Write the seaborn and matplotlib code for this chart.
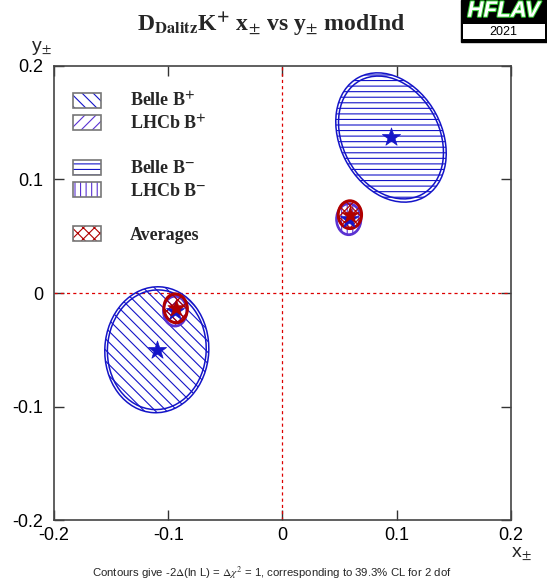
"""
DDalitz K+ : x± vs y± contours (Belle, LHCb, averages).
"""

import matplotlib
matplotlib.use("Agg")
import matplotlib.pyplot as plt
import matplotlib.patheffects as pe
from matplotlib.patches import Ellipse, Patch, Rectangle
import pandas as pd
import seaborn as sns

# ---- data ----
names = ["Belle B+", "LHCb B+", "Belle B-", "LHCb B-", "Average B+", "Average B-"]
x_center = [-0.110, -0.094, 0.095, 0.058, -0.0935, 0.059]
y_center = [-0.050, -0.016, 0.137, 0.065, -0.0135, 0.069]
x_semi = [0.0455, 0.0105, 0.0445, 0.0110, 0.0105, 0.0105]
y_semi = [0.0555, 0.0135, 0.0600, 0.0140, 0.0130, 0.0125]
angle_deg = [-3, 0, 28, 0, 5, 0]

ticks = [-0.2, -0.1, 0, 0.1, 0.2]
tick_labels = ["-0.2", "-0.1", "0", "0.1", "0.2"]

# ---- style ----
BLUE = "#1414c8"
PURPLE = "#5a32d2"
RED = "#b00000"
colors = [BLUE, PURPLE, BLUE, PURPLE, RED, RED]
hatches = ["\\\\\\", "///", "---", "|||", "xxx", "xxx"]
edge_lw = [1.1, 1.4, 1.1, 1.4, 1.7, 1.7]

sns.set_theme(style="ticks")
plt.rcParams["font.family"] = ["Liberation Sans", "DejaVu Sans"]
plt.rcParams["mathtext.fontset"] = "stix"
plt.rcParams["hatch.linewidth"] = 0.8

fig = plt.figure(figsize=(5.47, 5.88), dpi=100)
ax = fig.add_axes([0.0987, 0.1156, 0.8354, 0.7722])

ax.axhline(0, color="#dd0000", lw=0.9, ls=(0, (2.5, 2.5)), zorder=1)
ax.axvline(0, color="#dd0000", lw=0.9, ls=(0, (2.5, 2.5)), zorder=1)

for i in range(len(names)):
    for scale in (1.0, 0.95):
        ax.add_patch(Ellipse((x_center[i], y_center[i]), 2 * x_semi[i] * scale,
                             2 * y_semi[i] * scale, angle=angle_deg[i],
                             facecolor="none", edgecolor=colors[i], lw=edge_lw[i],
                             hatch=hatches[i] if scale == 1.0 else None,
                             zorder=2 + i))

stars = pd.DataFrame({"x": x_center, "y": y_center, "who": names})
sns.scatterplot(data=stars.iloc[:4], x="x", y="y", marker="*", s=190,
                color=BLUE, edgecolor=BLUE, linewidth=0.5, ax=ax, zorder=8)
sns.scatterplot(data=stars.iloc[4:], x="x", y="y", marker="*", s=170,
                color=RED, edgecolor=RED, linewidth=0.5, ax=ax, zorder=9)

ax.set_xlim(-0.2, 0.2)
ax.set_ylim(-0.2, 0.2)
ax.set_xticks(ticks, tick_labels)
ax.set_yticks(ticks, tick_labels)
ax.set_xlabel("")
ax.set_ylabel("")
ax.tick_params(direction="in", length=7, width=1.0, labelsize=13, colors="#333333",
               top=True, right=True, labelcolor="black")
ax.tick_params(axis="x", pad=5)
ax.tick_params(axis="y", pad=8)
for sp in ax.spines.values():
    sp.set_color("#444444")
    sp.set_linewidth(1.2)
ax.grid(False)

# legend with gaps between groups
def box(c, h):
    return (Patch(facecolor="white", edgecolor=c, hatch=h, lw=0),
            Patch(facecolor="none", edgecolor="#777777", lw=1.2))

blank = Patch(visible=False)
handles = [box(BLUE, "\\\\\\"), box(PURPLE, "///"), blank,
           box(BLUE, "---"), box(PURPLE, "|||"), blank, box(RED, "xxx")]
labels = [r"Belle B$^{\mathbf{+}}$", r"LHCb B$^{\mathbf{+}}$", " ",
          r"Belle B$^{\mathbf{-}}$", r"LHCb B$^{\mathbf{-}}$", " ", "Averages"]
ax.legend(handles, labels, loc="upper left", bbox_to_anchor=(0.005, 0.978),
          frameon=False, handlelength=1.6, handleheight=0.9, handletextpad=1.6,
          labelspacing=0.25, prop={"family": "Liberation Serif", "weight": "bold", "size": 13})

# titles and axis labels
fig.text(0.497, 0.958, r"D$_{\mathbf{Dalitz}}$K$^{\mathbf{+}}$ x$_{\pm}$ vs y$_{\pm}$ modInd",
         ha="center", va="center", fontsize=17, fontweight="bold", family="Liberation Serif")
fig.text(0.075, 0.918, r"y$_{\pm}$", ha="center", va="center", fontsize=14)
fig.text(0.953, 0.057, r"x$_{\pm}$", ha="center", va="center", fontsize=14)
fig.text(0.497, 0.025,
         r"Contours give -2$\Delta$(ln L) = $\Delta\chi^2$ = 1, corresponding to 39.3% CL for 2 dof",
         ha="center", va="center", fontsize=8.2)

# HFLAV logo
fig.add_artist(Rectangle((0.842, 0.929), 0.158, 0.071, transform=fig.transFigure,
                         facecolor="black", edgecolor="black"))
fig.add_artist(Rectangle((0.847, 0.933), 0.150, 0.027, transform=fig.transFigure,
                         facecolor="white", edgecolor="none"))
fig.text(0.921, 0.981, "HFLAV", ha="center", va="center", fontsize=16, color="white",
         fontweight="bold", style="italic",
         path_effects=[pe.withStroke(linewidth=1.5, foreground="#33cc33")])
fig.text(0.921, 0.946, "2021", ha="center", va="center", fontsize=9, color="black")

fig.savefig("out.png", dpi=100)
plt.close(fig)
